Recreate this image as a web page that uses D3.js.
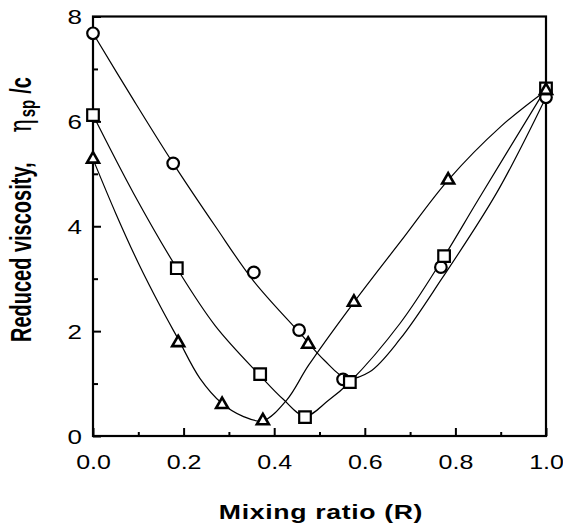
<!DOCTYPE html>
<html>
<head>
<meta charset="utf-8">
<script src="https://cdn.jsdelivr.net/npm/d3@7"></script>
<style>
  body { margin: 0; background: #fff; }
  svg { display: block; font-family: "Liberation Sans", Arial, sans-serif; }
</style>
</head>
<body>
<svg></svg>
<script>
// measured points (mixing ratio R, reduced viscosity)
const circleR = [0, 0.177, 0.355, 0.455, 0.552, 0.768, 1.0]
const circleV = [7.68, 5.2, 3.12, 2.02, 1.08, 3.22, 6.46]
const squareR = [0, 0.185, 0.369, 0.468, 0.567, 0.775, 1.0]
const squareV = [6.12, 3.2, 1.18, 0.36, 1.03, 3.43, 6.63]
const triangleR = [0, 0.188, 0.285, 0.375, 0.475, 0.576, 0.784, 1.0]
const triangleV = [5.28, 1.78, 0.6, 0.29, 1.75, 2.55, 4.88, 6.59]

// fitted curves
const circleFitR = [0, 0.09, 0.177, 0.27, 0.355, 0.455, 0.51, 0.56, 0.61, 0.678, 0.77, 0.892, 1.0]
const circleFitV = [7.68, 6.4, 5.2, 4.0, 2.95, 1.98, 1.45, 1.1, 1.22, 1.85, 3.0, 4.65, 6.46]
const squareFitR = [0, 0.09, 0.185, 0.27, 0.369, 0.42, 0.468, 0.52, 0.567, 0.678, 0.77, 0.85, 1.0]
const squareFitV = [6.12, 4.62, 3.2, 2.1, 1.15, 0.7, 0.38, 0.68, 1.03, 2.15, 3.35, 4.5, 6.63]
const triangleFitR = [0, 0.05, 0.1, 0.15, 0.188, 0.236, 0.285, 0.33, 0.375, 0.428, 0.476, 0.576, 0.68, 0.784, 0.9, 1.0]
const triangleFitV = [5.28, 4.25, 3.3, 2.45, 1.85, 1.1, 0.62, 0.38, 0.29, 0.69, 1.35, 2.55, 3.72, 4.88, 5.9, 6.59]

const xTicks = [0, 0.2, 0.4, 0.6, 0.8, 1.0]
const xMinor = [0.1, 0.3, 0.5, 0.7, 0.9]
const yTicks = [0, 2, 4, 6, 8]
const yMinor = [1, 3, 5, 7]

const svg = d3.select('svg')
              .attr('width', 563)
              .attr('height', 526)

const plot = {left: 93, right: 546, top: 16.5, bottom: 436}
const stretch = 1.3   // the figure is widened horizontally

const x = d3.scaleLinear().domain([0, 1]).range([plot.left, plot.right])
const y = d3.scaleLinear().domain([0, 8]).range([plot.bottom, plot.top])

const zip = (a, b) => a.map((v, i) => [v, b[i]])

// curves
const line = d3.line()
               .x(d => x(d[0]))
               .y(d => y(d[1]))
               .curve(d3.curveCatmullRom.alpha(0.5))

const fits = [zip(circleFitR, circleFitV), zip(squareFitR, squareFitV), zip(triangleFitR, triangleFitV)]
svg.append('g').selectAll('path')
   .data(fits)
   .join('path')
   .attr('d', line)
   .attr('fill', 'none')
   .attr('stroke', '#000')
   .attr('stroke-width', 1.2)

// frame + ticks
const xAxis = svg.append('g')
   .attr('transform', `translate(0,${plot.bottom})`)
   .call(d3.axisBottom(x).tickValues(xTicks).tickSize(-8).tickPadding(0).tickFormat(d3.format('.1f')))
xAxis.select('.domain').remove()
xAxis.selectAll('line').attr('stroke-width', 2)
xAxis.selectAll('text')
     .attr('y', 0).attr('dy', 0)
     .attr('transform', `translate(0,33) scale(1.25,1)`)
     .attr('font-size', 20)
     .attr('font-family', '"Liberation Sans", Arial, sans-serif')
     .attr('fill', '#000')

svg.append('g')
   .attr('transform', `translate(0,${plot.bottom})`)
   .call(d3.axisBottom(x).tickValues(xMinor).tickSize(-4).tickFormat(''))
   .call(g => g.select('.domain').remove())
   .selectAll('line').attr('stroke-width', 2)

const yAxis = svg.append('g')
   .attr('transform', `translate(${plot.left},0)`)
   .call(d3.axisLeft(y).tickValues(yTicks).tickSize(-8).tickPadding(0))
yAxis.select('.domain').remove()
yAxis.selectAll('line').attr('stroke-width', 2)
yAxis.selectAll('text')
     .attr('x', 0).attr('dy', '0.36em')
     .attr('transform', `translate(-11,0) scale(${stretch},1)`)
     .attr('font-size', 20)
     .attr('font-family', '"Liberation Sans", Arial, sans-serif')
     .attr('fill', '#000')

svg.append('g')
   .attr('transform', `translate(${plot.left},0)`)
   .call(d3.axisLeft(y).tickValues(yMinor).tickSize(-5).tickFormat(''))
   .call(g => g.select('.domain').remove())
   .selectAll('line').attr('stroke-width', 2)

svg.append('rect')
   .attr('x', plot.left).attr('y', plot.top)
   .attr('width', plot.right - plot.left).attr('height', plot.bottom - plot.top)
   .attr('fill', 'none')
   .attr('stroke', '#000')
   .attr('stroke-width', 2.2)

// markers
const marks = svg.append('g')
   .attr('fill', '#fff')
   .attr('stroke', '#000')
   .attr('stroke-width', 2.2)

marks.selectAll('.circ')
     .data(zip(circleR, circleV))
     .join('circle')
     .attr('cx', d => x(d[0]))
     .attr('cy', d => y(d[1]))
     .attr('r', 5.8)

marks.selectAll('.sq')
     .data(zip(squareR, squareV))
     .join('path')
     .attr('transform', d => `translate(${x(d[0])},${y(d[1])})`)
     .attr('d', d3.symbol(d3.symbolSquare, 135))

marks.selectAll('.tri')
     .data(zip(triangleR, triangleV))
     .join('path')
     .attr('transform', d => `translate(${x(d[0])},${y(d[1])})`)
     .attr('d', d3.symbol(d3.symbolTriangle, 62))
     .attr('stroke-width', 2.6)

// axis titles
svg.append('text')
   .attr('transform', `translate(321,519) scale(${stretch},1)`)
   .attr('text-anchor', 'middle')
   .attr('font-size', 20.5)
   .attr('font-weight', 'bold')
   .attr('letter-spacing', 0.5)
   .text('Mixing ratio (R)')

const yTitle = svg.append('text')
   .attr('transform', `translate(31,342) scale(1.45,1) rotate(-90)`)
   .attr('text-anchor', 'start')
   .attr('font-size', 20)
   .attr('font-weight', 'bold')
yTitle.append('tspan').text('Reduced viscosity,')
yTitle.append('tspan').attr('dx', 30).attr('font-weight', 'normal').attr('font-size', 22).attr('font-family', '"DejaVu Serif", serif').text('η')
yTitle.append('tspan').attr('dy', 3).attr('dx', 2).attr('font-size', 15).text('sp')
yTitle.append('tspan').attr('dy', -3).attr('dx', 6).text('/c')
</script>
</body>
</html>
